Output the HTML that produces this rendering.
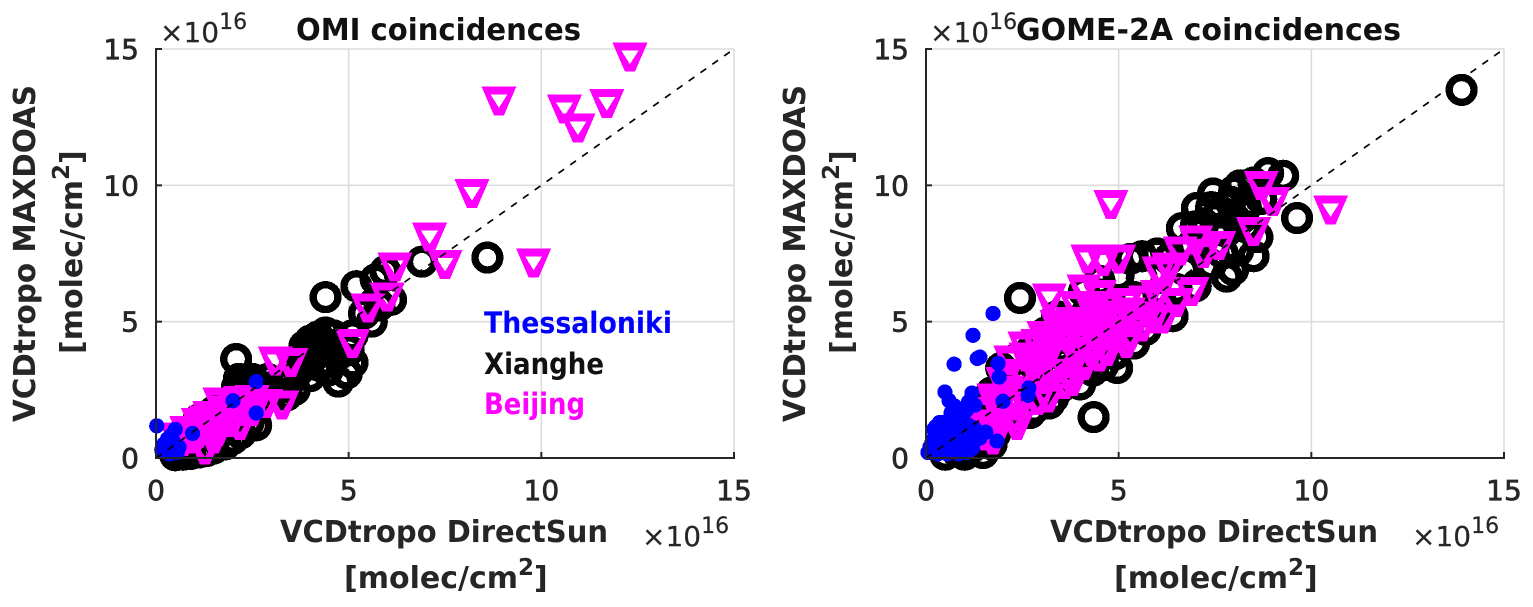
<!DOCTYPE html>
<html lang="en">
<head>
<meta charset="utf-8">
<title>VCDtropo coincidences</title>
<style>
html,body{margin:0;padding:0;background:#fff;width:1533px;height:607px;overflow:hidden}
svg{display:block}
text{font-family:"DejaVu Sans","Liberation Sans",sans-serif;fill:#262626}
.tick{font-size:28px;stroke:#262626;stroke-width:.7px}
.label{font-size:30px;font-weight:bold}
.title{font-size:30px;font-weight:bold;fill:#111}
.expo{font-size:28px;stroke:#262626;stroke-width:.2px}
.legend{font-size:29px;font-weight:bold}
</style>
</head>
<body>
<svg id="figure" width="1533" height="607" viewBox="0 0 1533 607" xmlns="http://www.w3.org/2000/svg">
  <g id="panel-left"></g>
  <g id="panel-right"></g>

  <text class="title" x="296" y="40" textLength="285" lengthAdjust="spacingAndGlyphs">OMI coincidences</text>
  <text class="expo" x="160" y="42">×10<tspan dy="-13" font-size="22">16</tspan></text>
  <text class="label" x="280" y="542" textLength="328" lengthAdjust="spacingAndGlyphs">VCDtropo DirectSun</text>
  <text class="label" x="344" y="588">[molec/cm<tspan dy="-13" font-size="23">2</tspan><tspan dy="13">]</tspan></text>
  <text class="expo" x="642" y="546">×10<tspan dy="-13" font-size="22">16</tspan></text>
  <text class="label" transform="translate(35,422) rotate(-90)" textLength="337" lengthAdjust="spacingAndGlyphs">VCDtropo MAXDOAS</text>
  <text class="label" transform="translate(82,354) rotate(-90)">[molec/cm<tspan dy="-13" font-size="23">2</tspan><tspan dy="13">]</tspan></text>
  <text class="legend" x="484" y="333" textLength="188" lengthAdjust="spacingAndGlyphs" style="fill:#0000ff">Thessaloniki</text>
  <text class="legend" x="484" y="374" textLength="120" lengthAdjust="spacingAndGlyphs" style="fill:#111">Xianghe</text>
  <text class="legend" x="484" y="414" textLength="101" lengthAdjust="spacingAndGlyphs" style="fill:#ff00ff">Beijing</text>

  <text class="title" x="1016" y="40" textLength="385" lengthAdjust="spacingAndGlyphs">GOME-2A coincidences</text>
  <text class="expo" x="930" y="42">×10<tspan dy="-13" font-size="22">16</tspan></text>
  <text class="label" x="1050" y="542" textLength="328" lengthAdjust="spacingAndGlyphs">VCDtropo DirectSun</text>
  <text class="label" x="1114" y="588">[molec/cm<tspan dy="-13" font-size="23">2</tspan><tspan dy="13">]</tspan></text>
  <text class="expo" x="1412" y="546">×10<tspan dy="-13" font-size="22">16</tspan></text>
  <text class="label" transform="translate(805,422) rotate(-90)" textLength="337" lengthAdjust="spacingAndGlyphs">VCDtropo MAXDOAS</text>
  <text class="label" transform="translate(852,354) rotate(-90)">[molec/cm<tspan dy="-13" font-size="23">2</tspan><tspan dy="13">]</tspan></text>
</svg>
<script>
var tickValues = [0, 5, 10, 15];
var tickLabels = ['0', '5', '10', '15'];
var axisLimits = [0, 15];
var refLine = [0, 15];

var omiXianghe = [[0.5,0.1],[0.7,0.12],[0.9,0.15],[1.1,0.2],[1.3,0.25],[1.5,0.35],[1.8,0.5],[2.0,0.7],[2.2,0.9],[0.8,0.5],[1.2,0.8],[1.5,1.0],[1.8,1.3],[2.1,1.5],[2.4,1.3],[2.6,1.2],[1.1,1.4],[1.5,1.7],[1.9,2.0],[2.1,2.6],[2.15,2.9],[2.08,3.63],[2.4,2.7],[2.3,2.3],[2.6,2.3],[2.2,2.5],[2.5,2.9],[2.8,2.6],[2.7,2.6],[2.9,2.9],[3.0,2.3],[3.2,2.7],[3.4,2.3],[3.6,2.5],[3.5,3.0],[3.7,3.2],[3.6,3.4],[3.8,3.6],[3.85,4.1],[3.9,3.85],[4.0,4.3],[4.1,4.0],[4.3,4.2],[4.2,4.45],[4.4,4.6],[4.6,4.5],[3.95,3.5],[4.0,3.0],[4.15,3.8],[4.2,3.4],[4.35,3.9],[4.45,3.2],[4.5,3.5],[4.55,4.15],[4.7,3.75],[4.73,2.8],[4.95,3.1],[5.1,3.5],[5.0,3.95],[5.1,4.5],[4.4,5.9],[5.2,6.3],[5.7,6.55],[5.95,6.85],[5.4,5.3],[5.8,5.6],[6.1,5.8],[5.6,5.0],[6.9,7.2],[8.6,7.35]];
var omiBeijing = [[12.3,14.7],[8.9,13.1],[10.6,12.8],[11.7,13.0],[10.95,12.1],[8.2,9.7],[7.1,8.1],[6.2,7.0],[7.5,7.1],[9.8,7.15],[5.5,5.5],[6.0,5.9],[5.1,4.2],[3.1,3.55],[3.5,3.5],[3.27,1.95],[2.85,2.0],[2.5,2.15],[2.2,2.1],[2.4,2.0],[2.2,1.7],[2.0,1.9],[1.9,1.3],[1.75,1.75],[1.66,2.05],[1.4,1.55],[1.3,1.4],[1.5,1.3],[1.1,1.3],[1.1,0.9],[0.8,1.0],[0.9,0.7],[1.0,0.7],[1.27,0.3],[1.5,0.7],[1.6,0.95],[2.18,1.2],[2.0,1.5],[1.3,1.0],[0.7,0.6],[0.55,0.77],[1.7,1.3],[2.5,1.7]];
var omiThessaloniki = [[0.02,1.18],[0.5,1.05],[0.4,0.85],[0.3,0.7],[0.45,0.6],[0.2,0.5],[0.15,0.3],[0.3,0.3],[0.5,0.35],[0.6,0.4],[0.35,0.15],[0.95,0.9],[2.0,2.1],[2.6,2.8],[2.6,1.65],[0.55,0.2],[0.45,0.45]];

var gomeXianghe = [[13.9,13.5],[4.35,1.5],[2.44,5.87],[4.96,3.3],[4.33,3.2],[3.2,2.0],[2.7,1.65],[9.63,8.8],[8.88,10.45],[9.27,10.35],[8.5,10.1],[8.15,10.0],[7.45,9.7],[7.9,9.4],[8.0,9.8],[7.4,9.2],[7.03,9.17],[7.6,9.0],[8.3,9.2],[8.7,9.5],[6.64,8.43],[7.0,8.5],[7.2,8.6],[7.5,8.4],[7.8,8.3],[8.3,8.5],[8.6,8.1],[8.0,8.8],[8.5,7.4],[8.1,7.6],[7.97,6.9],[7.8,6.65],[7.4,7.1],[7.7,7.5],[6.9,7.8],[6.0,7.5],[5.6,7.4],[5.3,7.3],[6.3,7.3],[6.7,6.9],[7.0,6.3],[6.5,6.2],[6.1,5.7],[5.6,6.6],[5.0,6.7],[4.5,6.5],[4.1,6.1],[4.6,6.0],[5.4,5.9],[5.9,5.3],[6.4,5.2],[5.7,4.7],[5.2,5.0],[4.8,5.4],[4.2,5.4],[3.8,5.0],[3.4,5.2],[3.1,4.6],[3.5,4.4],[4.0,4.5],[4.5,4.6],[5.0,4.3],[5.4,4.2],[4.9,3.8],[4.4,3.8],[4.0,3.9],[3.6,3.7],[3.1,3.8],[2.7,3.9],[2.3,3.6],[1.95,3.3],[2.0,2.8],[2.4,3.0],[2.9,3.1],[3.4,3.1],[3.8,3.3],[4.3,3.6],[4.6,3.4],[3.0,2.5],[3.5,2.6],[4.0,2.7],[3.3,2.2],[2.7,2.3],[2.2,2.3],[1.7,2.4],[1.4,2.0],[1.8,1.9],[2.3,1.8],[2.8,1.8],[2.1,1.3],[1.6,1.4],[1.2,1.5],[0.9,1.1],[1.3,0.9],[1.8,0.9],[1.7,0.5],[1.2,0.4],[0.8,0.25],[0.5,0.12],[1.0,0.12],[1.48,0.18]];
var gomeBeijing = [[4.8,9.3],[8.7,10.0],[9.0,9.4],[8.5,8.3],[10.5,9.1],[4.2,7.3],[4.6,7.2],[5.0,7.3],[7.0,8.0],[7.6,7.8],[7.2,7.5],[6.6,7.6],[6.3,7.0],[6.05,6.85],[6.9,6.1],[6.5,5.7],[6.15,5.1],[3.2,5.87],[4.1,6.2],[4.5,6.0],[3.9,5.6],[4.3,5.5],[4.7,5.6],[5.2,5.7],[5.7,5.8],[6.0,6.0],[3.06,4.5],[3.4,4.9],[3.8,5.0],[4.2,4.9],[4.6,5.0],[5.0,5.1],[5.5,5.2],[5.9,5.1],[4.45,5.25],[5.25,5.35],[3.6,4.6],[4.35,4.6],[2.57,4.1],[2.9,4.2],[3.3,4.3],[3.7,4.4],[4.1,4.4],[4.5,4.3],[4.9,4.4],[5.3,4.5],[5.6,4.8],[2.2,3.6],[2.6,3.7],[3.0,3.6],[3.5,3.7],[3.9,3.8],[4.3,3.9],[4.7,3.9],[5.2,4.2],[3.2,3.9],[2.8,3.4],[4.8,4.7],[2.5,3.1],[2.9,3.0],[3.3,3.1],[3.7,3.1],[4.1,3.4],[4.5,3.7],[3.17,2.2],[3.6,2.7],[3.8,2.8],[2.0,2.8],[2.9,2.1],[2.5,2.3],[2.1,2.5],[1.76,2.2],[1.8,2.0],[2.3,1.9],[2.36,1.2],[2.0,1.5],[1.6,1.7],[1.32,1.25],[1.4,1.2],[1.8,1.0],[2.3,1.5],[1.2,0.9],[1.74,0.66],[1.1,0.55],[1.55,0.8]];
var gomeThessaloniki = [[1.74,5.3],[1.22,4.5],[1.4,3.7],[1.33,3.65],[0.73,3.44],[1.87,3.47],[1.9,2.97],[2.67,2.57],[2.65,2.3],[2.0,2.08],[0.49,2.42],[1.19,2.38],[1.27,1.94],[1.1,2.05],[1.05,1.75],[0.6,2.1],[0.75,1.9],[0.65,1.65],[0.85,1.4],[0.6,1.35],[0.35,1.3],[1.0,1.3],[1.25,1.1],[0.5,1.1],[0.8,1.1],[1.4,0.85],[1.84,0.62],[1.4,0.73],[1.1,0.7],[0.9,0.8],[0.6,0.8],[0.3,0.9],[0.2,0.7],[0.45,0.6],[0.75,0.6],[1.0,0.5],[1.2,0.35],[0.2,0.45],[0.15,0.25],[0.35,0.3],[0.5,0.2],[0.7,0.3],[0.9,0.25],[0.3,0.15],[0.6,0.5],[0.4,0.45],[0.2,1.05],[0.45,1.3],[0.7,1.35],[1.15,1.0],[0.95,1.05],[0.35,0.6],[1.05,0.2],[0.15,0.55],[0.8,0.45],[0.55,0.95],[1.25,0.6],[0.1,0.4],[0.75,1.55],[0.25,1.15],[0.9,1.5],[1.1,1.2],[0.55,0.15],[0.25,0.3],[0.05,0.2],[0.95,0.55],[1.55,0.95],[0.85,0.15],[1.05,0.85]];

var SVGNS = 'http://www.w3.org/2000/svg';
var plotLeftOmi = 156, plotLeftGome = 926, plotTop = 49, plotBottom = 458, plotWidth = 578;

function make(parent, tag, attrs) {
  var el = document.createElementNS(SVGNS, tag);
  for (var k in attrs) el.setAttribute(k, attrs[k]);
  parent.appendChild(el);
  return el;
}
function xScale(left, v) {
  return left + (v - axisLimits[0]) / (axisLimits[1] - axisLimits[0]) * plotWidth;
}
function yScale(v) {
  return plotBottom - (v - axisLimits[0]) / (axisLimits[1] - axisLimits[0]) * (plotBottom - plotTop);
}
var TRI = 'M-17.5 -14.5H17.5L5 14.5H-5ZM-8.5 -6.5L0 7L8.5 -6.5Z';

function drawPanel(group, left, prefix, black, magenta, blue) {
  var i, el;
  var grid = make(group, 'g', {});
  
  
  for (i = 1; i < tickValues.length; i++) {
    el = make(grid, 'line', {x1: xScale(left, tickValues[i]), x2: xScale(left, tickValues[i]), y1: plotTop, y2: plotBottom, stroke: '#dcdcdc', 'stroke-width': 1.6});
    
    
    el = make(grid, 'line', {x1: left, x2: left + plotWidth, y1: yScale(tickValues[i]), y2: yScale(tickValues[i]), stroke: '#dcdcdc', 'stroke-width': 1.6});
    
    
  }

  var marks = make(group, 'g', {'shape-rendering': 'crispEdges'});
  
  
  black.forEach(function (p) {
    var c = make(marks, 'circle', {cx: xScale(left, p[0]), cy: yScale(p[1]), r: 12.4, fill: 'none', stroke: '#000', 'stroke-width': 7.4});
    
    
  });
  magenta.forEach(function (p) {
    var t = make(marks, 'path', {d: TRI, fill: '#ff00ff', 'fill-rule': 'evenodd', transform: 'translate(' + xScale(left, p[0]) + ',' + yScale(p[1]) + ')'});
    
    
  });
  blue.forEach(function (p) {
    var c = make(marks, 'circle', {cx: xScale(left, p[0]), cy: yScale(p[1]), r: 7.6, fill: '#0000ff'});
    
    
  });

  el = make(group, 'line', {x1: xScale(left, refLine[0]), y1: yScale(refLine[0]), x2: xScale(left, refLine[1]), y2: yScale(refLine[1]), stroke: '#000', 'stroke-width': 1.7, 'stroke-dasharray': '7 7.5'});
  
  

  el = make(group, 'line', {x1: left, x2: left, y1: plotTop - 1, y2: plotBottom + 1, stroke: '#262626', 'stroke-width': 2});
  
  
  el = make(group, 'line', {x1: left - 1, x2: left + plotWidth + 1, y1: plotBottom, y2: plotBottom, stroke: '#262626', 'stroke-width': 2});
  
  

  tickValues.forEach(function (v, j) {
    var t;
    t = make(group, 'line', {x1: xScale(left, v), x2: xScale(left, v), y1: plotBottom, y2: plotBottom - 6, stroke: '#262626', 'stroke-width': 2});
    
    
    t = make(group, 'line', {x1: left, x2: left + 6, y1: yScale(v), y2: yScale(v), stroke: '#262626', 'stroke-width': 2});
    
    
    t = make(group, 'text', {'class': 'tick', x: xScale(left, v), y: 500, 'text-anchor': 'middle'});
    t.textContent = tickLabels[j];
    
    
    t = make(group, 'text', {'class': 'tick', x: left - 17, y: yScale(v) + 10, 'text-anchor': 'end'});
    t.textContent = tickLabels[j];
    
    
  });
}

drawPanel(document.getElementById('panel-left'), plotLeftOmi, 'omi', omiXianghe, omiBeijing, omiThessaloniki);
drawPanel(document.getElementById('panel-right'), plotLeftGome, 'gome', gomeXianghe, gomeBeijing, gomeThessaloniki);
</script>
</body>
</html>
